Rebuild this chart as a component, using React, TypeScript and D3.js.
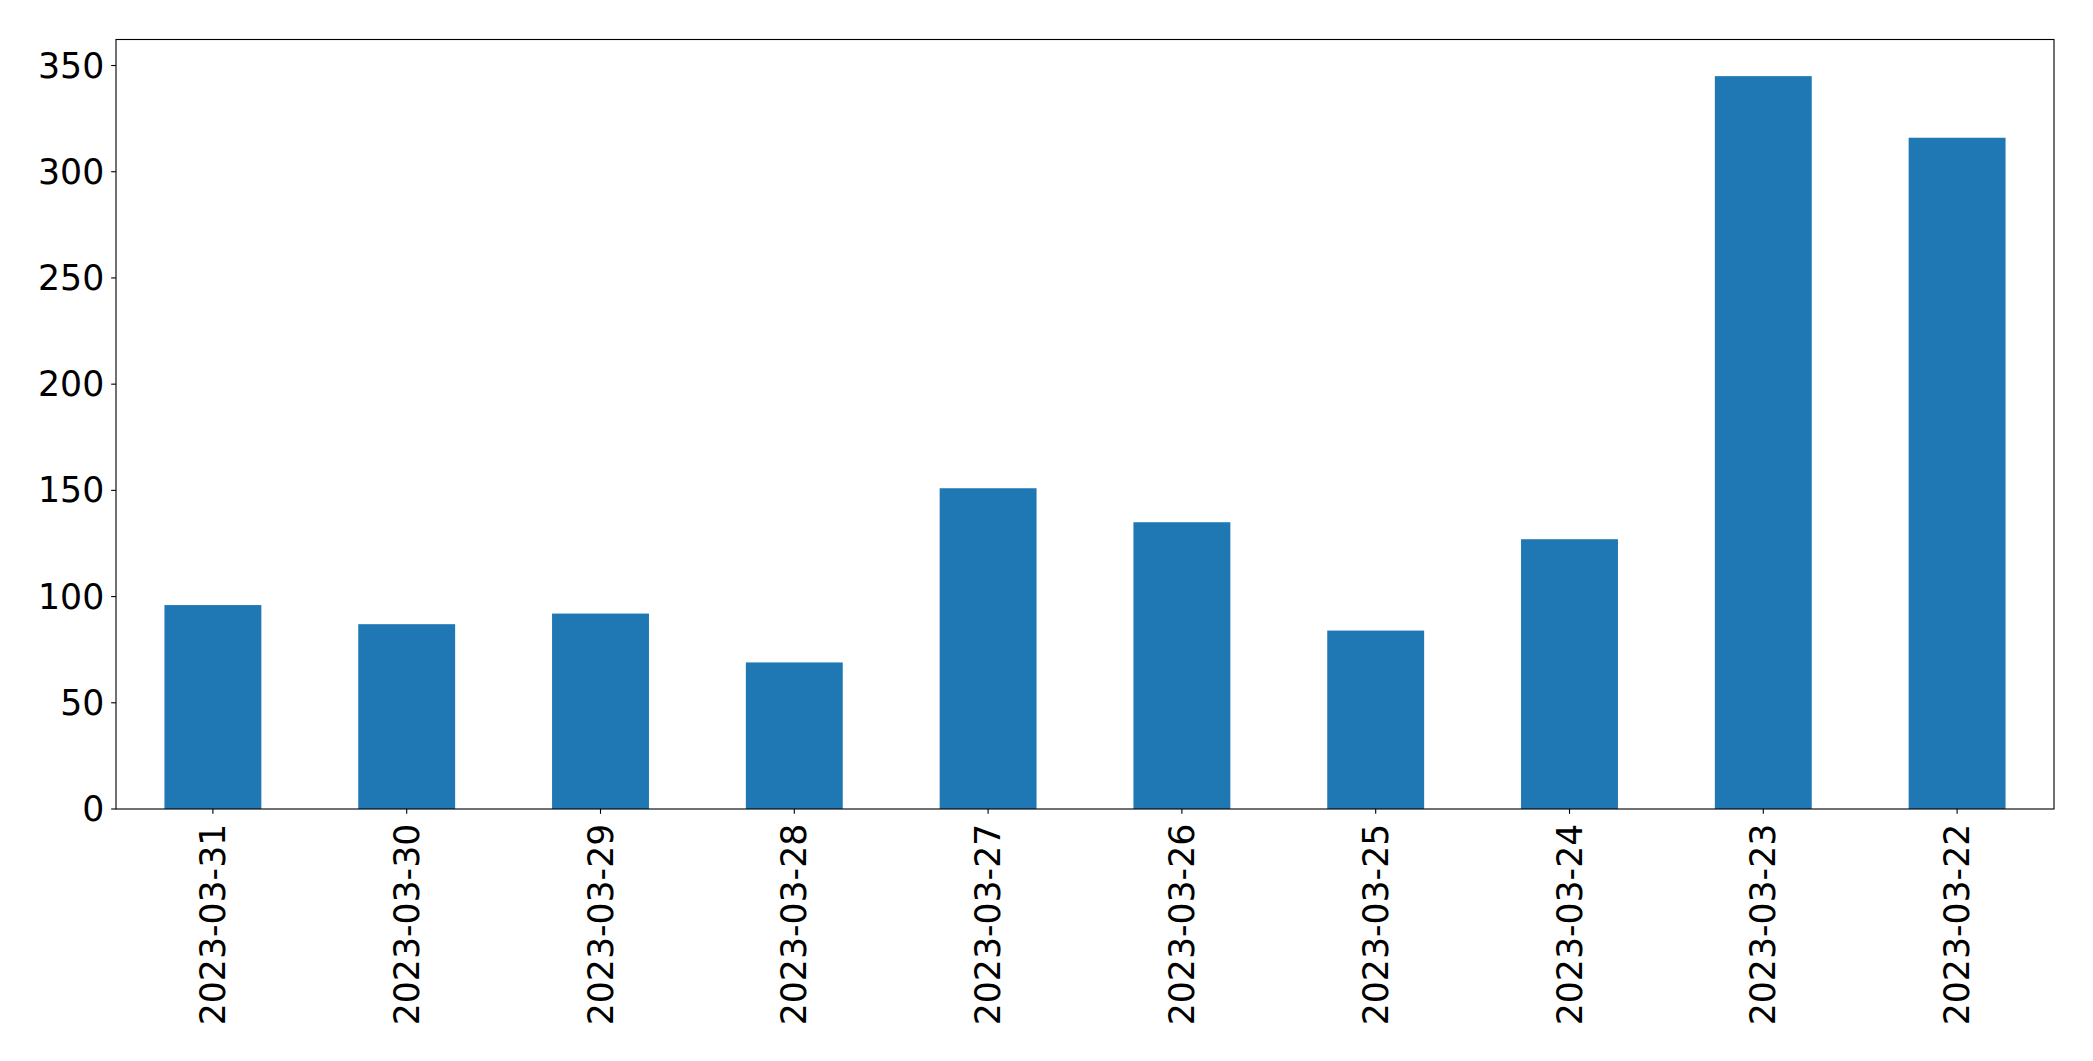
import React from "react";
import * as d3 from "d3";

const categories = [
  "2023-03-31",
  "2023-03-30",
  "2023-03-29",
  "2023-03-28",
  "2023-03-27",
  "2023-03-26",
  "2023-03-25",
  "2023-03-24",
  "2023-03-23",
  "2023-03-22",
];
const values = [96, 87, 92, 69, 151, 135, 84, 127, 345, 316];
const yTicks = [0, 50, 100, 150, 200, 250, 300, 350];

const W = 2093;
const H = 1061;
const left = 116;
const right = 2054;
const top = 39.5;
const bottom = 809;
const fontSize = 34.7;
const tickLen = 4.86;
const pad = 4.86;
const font = "DejaVu Sans, sans-serif";

export default function App() {
  const x = d3
    .scaleBand<string>()
    .domain(categories)
    .range([left, right])
    .paddingInner(0.5)
    .paddingOuter(0.25);
  const yMax = d3.max(values)! * 1.05;
  const y = d3.scaleLinear().domain([0, yMax]).range([bottom, top]);

  return (
    <svg
      width={W}
      height={H}
      style={{ position: "absolute", left: 0, top: 0, background: "#fff" }}
    >
      <rect x={0} y={0} width={W} height={H} fill="#fff" />
      {categories.map((c, i) => (
        <rect
          key={c}
          x={x(c)}
          y={y(values[i])}
          width={x.bandwidth()}
          height={y(0) - y(values[i])}
          fill="#1f77b4"
        />
      ))}
      <rect
        x={left}
        y={top}
        width={right - left}
        height={bottom - top}
        fill="none"
        stroke="#000"
        strokeWidth={1.11}
      />
      {yTicks.map((t) => (
        <g key={t}>
          <line
            x1={left - tickLen}
            x2={left}
            y1={y(t)}
            y2={y(t)}
            stroke="#000"
            strokeWidth={1.11}
          />
          <text
            x={left - tickLen - pad - 2}
            y={y(t)}
            textAnchor="end"
            dominantBaseline="central"
            fontFamily={font}
            fontSize={fontSize}
            fill="#000"
          >
            {t}
          </text>
        </g>
      ))}
      {categories.map((c) => {
        const cx = (x(c) as number) + x.bandwidth() / 2;
        const ty = bottom + tickLen + pad + 5;
        return (
          <g key={c}>
            <line
              x1={cx}
              x2={cx}
              y1={bottom}
              y2={bottom + tickLen}
              stroke="#000"
              strokeWidth={1.11}
            />
            <text
              transform={`translate(${cx},${ty}) rotate(-90)`}
              textAnchor="end"
              dominantBaseline="central"
              fontFamily={font}
              fontSize={fontSize}
              fill="#000"
            >
              {c}
            </text>
          </g>
        );
      })}
    </svg>
  );
}
